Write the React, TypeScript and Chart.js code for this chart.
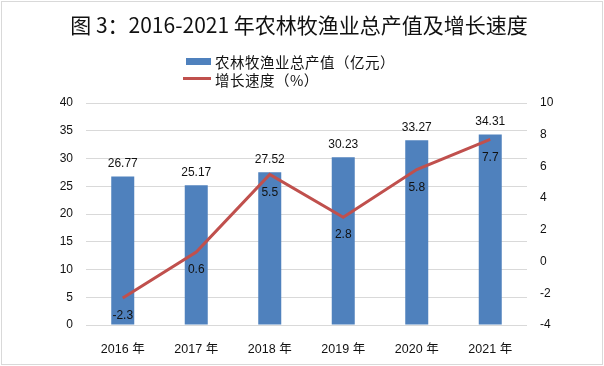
import React, { useEffect, useRef } from 'react';
import { Chart, registerables } from 'chart.js';

Chart.register(...registerables);

const categories = ['2016 年', '2017 年', '2018 年', '2019 年', '2020 年', '2021 年'];
const outputValues = [26.77, 25.17, 27.52, 30.23, 33.27, 34.31];
const growthRates = [-2.3, 0.6, 5.5, 2.8, 5.8, 7.7];
const leftAxis = { min: 0, max: 40, step: 5 };
const rightAxis = { min: -4, max: 10, step: 2 };
const titleText = '图 3：2016-2021 年农林牧渔业总产值及增长速度';
const barSeriesName = '农林牧渔业总产值（亿元）';
const lineSeriesName = '增长速度（%）';

const BAR_COLOR = '#4F81BD';
const LINE_COLOR = '#C0504D';
const TEXT_COLOR = '#111111';
const LATIN = "'Liberation Sans', 'Noto Sans CJK SC', sans-serif";
const CJK = "'Noto Sans CJK SC', sans-serif";

const decorPlugin = {
  id: 'decor',
  beforeDraw(chart: any) {
    const ctx = chart.ctx as CanvasRenderingContext2D;
    ctx.save();
    ctx.fillStyle = '#ffffff';
    ctx.fillRect(0, 0, chart.width, chart.height);
    ctx.strokeStyle = '#d9d9d9';
    ctx.lineWidth = 1;
    ctx.strokeRect(1.5, 1.5, chart.width - 3, chart.height - 3);

    // title
    ctx.fillStyle = TEXT_COLOR;
    ctx.font = `21px ${CJK}`;
    (ctx as any).letterSpacing = '0px';
    ctx.textAlign = 'center';
    ctx.textBaseline = 'middle';
    ctx.fillText(titleText, 299, 25);

    // legend
    ctx.fillStyle = BAR_COLOR;
    ctx.fillRect(186, 58, 25, 7);
    ctx.fillStyle = LINE_COLOR;
    ctx.fillRect(183, 77, 28, 3);
    ctx.fillStyle = TEXT_COLOR;
    ctx.font = `14.5px ${CJK}`;
    (ctx as any).letterSpacing = '0.5px';
    ctx.textAlign = 'left';
    ctx.fillText(barSeriesName, 215, 62);
    ctx.fillText(lineSeriesName, 215, 80);
    (ctx as any).letterSpacing = '0px';
    ctx.restore();
  },
  afterDatasetsDraw(chart: any) {
    const ctx = chart.ctx as CanvasRenderingContext2D;
    ctx.save();
    ctx.fillStyle = TEXT_COLOR;
    ctx.font = `12px ${LATIN}`;
    ctx.textAlign = 'center';
    ctx.textBaseline = 'middle';
    chart.data.datasets.forEach((ds: any, i: number) => {
      const meta = chart.getDatasetMeta(i);
      meta.data.forEach((el: any, j: number) => {
        const v = ds.data[j];
        if (ds.type === 'bar') {
          ctx.fillText(v.toFixed(2), el.x, el.y - 13);
        } else {
          ctx.fillText(String(v), el.x, el.y + 18);
        }
      });
    });
    ctx.restore();
  },
};

export default function App() {
  const ref = useRef<HTMLCanvasElement | null>(null);

  useEffect(() => {
    if (!ref.current) return;
    const chart = new Chart(ref.current, {
      type: 'bar',
      data: {
        labels: categories,
        datasets: [
          {
            type: 'line',
            label: lineSeriesName,
            data: growthRates,
            borderColor: LINE_COLOR,
            backgroundColor: LINE_COLOR,
            borderWidth: 3,
            pointRadius: 0,
            tension: 0,
            yAxisID: 'y1',
            order: 0,
          } as any,
          {
            type: 'bar',
            label: barSeriesName,
            data: outputValues,
            backgroundColor: BAR_COLOR,
            barPercentage: 0.313,
            categoryPercentage: 1,
            yAxisID: 'y',
            order: 1,
          } as any,
        ],
      },
      options: {
        responsive: false,
        animation: false,
        devicePixelRatio: 1,
        layout: { padding: { top: 103, left: 0, right: 0, bottom: 0 } },
        plugins: {
          legend: { display: false },
          title: { display: false },
          tooltip: { enabled: false },
        },
        scales: {
          x: {
            offset: true,
            grid: { display: false },
            border: { display: false },
            ticks: { color: TEXT_COLOR, font: { family: LATIN, size: 12.5 }, padding: 9, maxRotation: 0 },
            afterFit: (s: any) => { s.height = 41; },
          },
          y: {
            position: 'left',
            min: leftAxis.min,
            max: leftAxis.max,
            ticks: { stepSize: leftAxis.step, color: TEXT_COLOR, font: { family: LATIN, size: 12 }, padding: 13 },
            grid: { color: '#d9d9d9', lineWidth: 1, drawTicks: false },
            border: { display: false },
            afterFit: (s: any) => { s.width = 86; },
          },
          y1: {
            position: 'right',
            min: rightAxis.min,
            max: rightAxis.max,
            ticks: { stepSize: rightAxis.step, color: TEXT_COLOR, font: { family: LATIN, size: 12 }, padding: 13 },
            grid: { display: false, drawTicks: false },
            border: { display: false },
            afterFit: (s: any) => { s.width = 77; },
          },
        },
      } as any,
      plugins: [decorPlugin],
    });
    return () => chart.destroy();
  }, []);

  return (
    <div style={{ position: 'fixed', left: 0, top: 0, width: 604, height: 366 }}>
      <canvas ref={ref} width={604} height={366} style={{ display: 'block' }} />
    </div>
  );
}
